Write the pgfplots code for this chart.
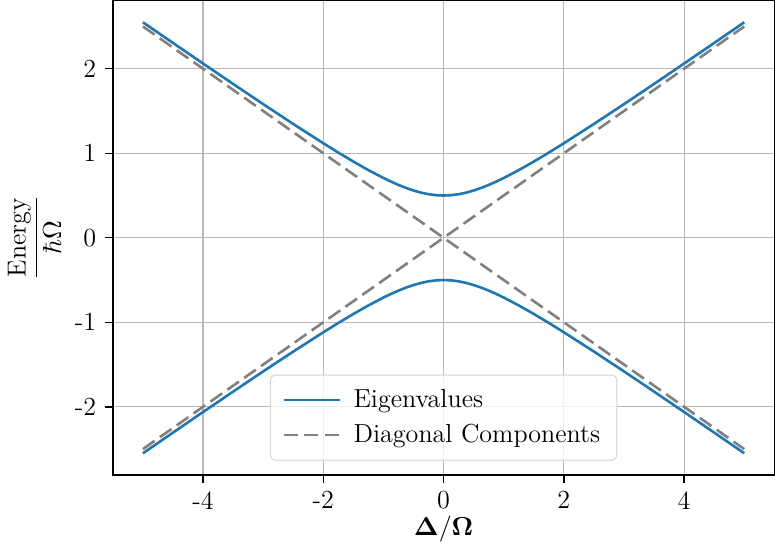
\documentclass[border=0pt]{standalone}
\usepackage{pgfplots}
\pgfplotsset{compat=1.18}
\usepackage{amsmath,bm}
\definecolor{mplblue}{HTML}{1F77B4}
\begin{document}
\begin{tikzpicture}
\begin{axis}[
  scale only axis, width=279pt, height=200pt,
  xmin=-5.5, xmax=5.5, ymin=-2.805, ymax=2.805,
  xtick={-4,-2,0,2,4}, xticklabels={-4,-2,0,2,4},
  ytick={-2,-1,0,1,2}, yticklabels={-2,-1,0,1,2},
  tick label style={font=\fontsize{11}{13}\selectfont},
  tick align=outside, tick pos=left,
  major tick length=3.5pt,
  tick style={black, line width=0.6pt},
  grid=major, grid style={gray!55, line width=0.5pt},
  axis line style={line width=0.6pt},
  xlabel={\fontsize{11}{13}\selectfont$\mathbf{\Delta/\Omega}$},
  ylabel={\fontsize{11}{13}\selectfont$\dfrac{\text{Energy}}{\hbar\Omega}$},
  xlabel style={yshift=4pt},
  ylabel style={yshift=-1pt},
  legend style={at={(0.5,0.03)}, anchor=south, rounded corners=2pt, draw=gray!35, fill=white, fill opacity=0.8, text opacity=1, font=\fontsize{11}{13}\selectfont, row sep=1.5pt, inner xsep=5pt, inner ysep=4pt},
  legend cell align=left,
  legend image code/.code={\draw[#1] (0pt,0pt) -- (24pt,0pt);},
]
\addplot[mplblue, line width=1.1pt] coordinates {
(-5,2.54951)(-4.5,2.30489)(-4,2.06155)(-3.5,1.82003)(-3,1.58114)(-2.5,1.34629)(-2,1.11803)(-1.75,1.00778)(-1.5,0.90139)(-1.25,0.80039)(-1,0.70711)(-0.875,0.66439)(-0.75,0.625)(-0.625,0.58962)(-0.5,0.55902)(-0.375,0.53400)(-0.25,0.51539)(-0.125,0.50389)(0,0.5)
(0.125,0.50389)(0.25,0.51539)(0.375,0.53400)(0.5,0.55902)(0.625,0.58962)(0.75,0.625)(0.875,0.66439)(1,0.70711)(1.25,0.80039)(1.5,0.90139)(1.75,1.00778)(2,1.11803)(2.5,1.34629)(3,1.58114)(3.5,1.82003)(4,2.06155)(4.5,2.30489)(5,2.54951)};
\addlegendentry{\hspace{3pt}Eigenvalues}
\addplot[gray, dash pattern=on 6pt off 2.7pt, line width=1.1pt] coordinates {(-5,2.5)(0,0)(5,-2.5)};
\addlegendentry{\hspace{3pt}Diagonal Components}
\addplot[mplblue, line width=1.1pt, forget plot] coordinates {
(-5,-2.54951)(-4.5,-2.30489)(-4,-2.06155)(-3.5,-1.82003)(-3,-1.58114)(-2.5,-1.34629)(-2,-1.11803)(-1.75,-1.00778)(-1.5,-0.90139)(-1.25,-0.80039)(-1,-0.70711)(-0.875,-0.66439)(-0.75,-0.625)(-0.625,-0.58962)(-0.5,-0.55902)(-0.375,-0.53400)(-0.25,-0.51539)(-0.125,-0.50389)(0,-0.5)
(0.125,-0.50389)(0.25,-0.51539)(0.375,-0.53400)(0.5,-0.55902)(0.625,-0.58962)(0.75,-0.625)(0.875,-0.66439)(1,-0.70711)(1.25,-0.80039)(1.5,-0.90139)(1.75,-1.00778)(2,-1.11803)(2.5,-1.34629)(3,-1.58114)(3.5,-1.82003)(4,-2.06155)(4.5,-2.30489)(5,-2.54951)};
\addplot[gray, dash pattern=on 6pt off 2.7pt, line width=1.1pt, forget plot] coordinates {(-5,-2.5)(0,0)(5,2.5)};
\end{axis}
\end{tikzpicture}
\end{document}
